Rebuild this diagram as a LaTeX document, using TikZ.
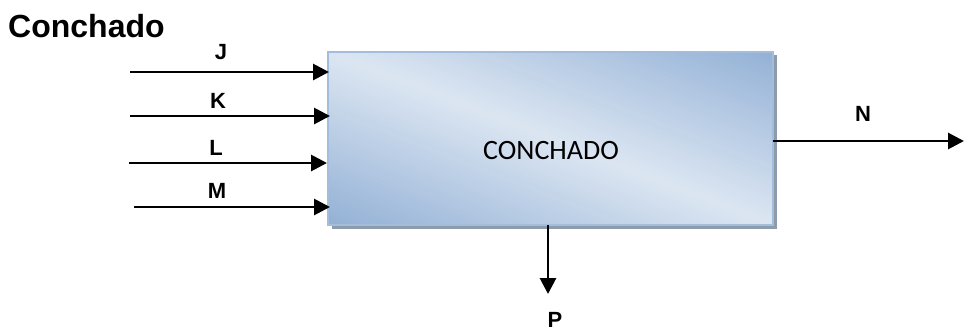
\documentclass[tikz,border=0pt]{standalone}
\usepackage{fontspec}
\setmainfont{Liberation Sans}
\newfontfamily\boxfont{Carlito}
\usetikzlibrary{arrows.meta}
\definecolor{boxdark}{HTML}{93B1D6}
\definecolor{boxlight}{HTML}{DCE6F2}
\definecolor{shadowgrey}{HTML}{8E9BAB}
\tikzset{
  flow/.style={line width=2.9pt, -{Triangle[length=16pt,width=16pt]}},
  lbl/.style={font=\fontsize{22}{22}\selectfont\bfseries, inner sep=0pt},
}
\begin{document}
\begin{tikzpicture}[x=1pt,y=-1pt]
\useasboundingbox (0,0) rectangle (964,333);
% shadow
\fill[shadowgrey] (332,55) rectangle (777,229);
% box with diagonal gradient
\begin{scope}
  \clip (328,52) rectangle (773,225);
  \begin{scope}[shift={(550.5,138.5)}, rotate=-21.25]
    \foreach \t in {-176,-172,...,172}{
      \pgfmathsetmacro{\p}{min(100,abs(\t+2)/161*100)}
      \fill[boxdark!\p!boxlight] (-300,\t) rectangle (300,\t+4.6);
    }
  \end{scope}
\end{scope}
\draw[boxdark!85!white, line width=1.2pt] (328,52) rectangle (773,225);
\node[font=\boxfont\fontsize{28}{28}\selectfont, inner sep=0pt] (main) at (551,151) {CONCHADO};
% title
\node[anchor=west, font=\fontsize{32}{32}\selectfont\bfseries, inner sep=0pt] (title) at (8,26) {Conchado};
% input coordinates
\coordinate (j0) at (130,72);  \coordinate (j1) at (329,72);
\coordinate (k0) at (130,116); \coordinate (k1) at (330,116);
\coordinate (l0) at (129,163); \coordinate (l1) at (327,163);
\coordinate (m0) at (134,207); \coordinate (m1) at (330,207);
\draw[flow] (j0) -- (j1);
\draw[flow] (k0) -- (k1);
\draw[flow] (l0) -- (l1);
\draw[flow] (m0) -- (m1);
\node[lbl] (J) at (221,52) {J};
\node[lbl] (K) at (218,101) {K};
\node[lbl] (L) at (216,148) {L};
\node[lbl] (M) at (217,191) {M};
% output N
\coordinate (n0) at (773,141); \coordinate (n1) at (964,141);
\draw[flow] (n0) -- (n1);
\node[lbl] (N) at (863,114) {N};
% output P
\coordinate (p0) at (548,225); \coordinate (p1) at (548,294);
\draw[flow] (p0) -- (p1);
\node[lbl] (P) at (555,320) {P};
\end{tikzpicture}
\end{document}
